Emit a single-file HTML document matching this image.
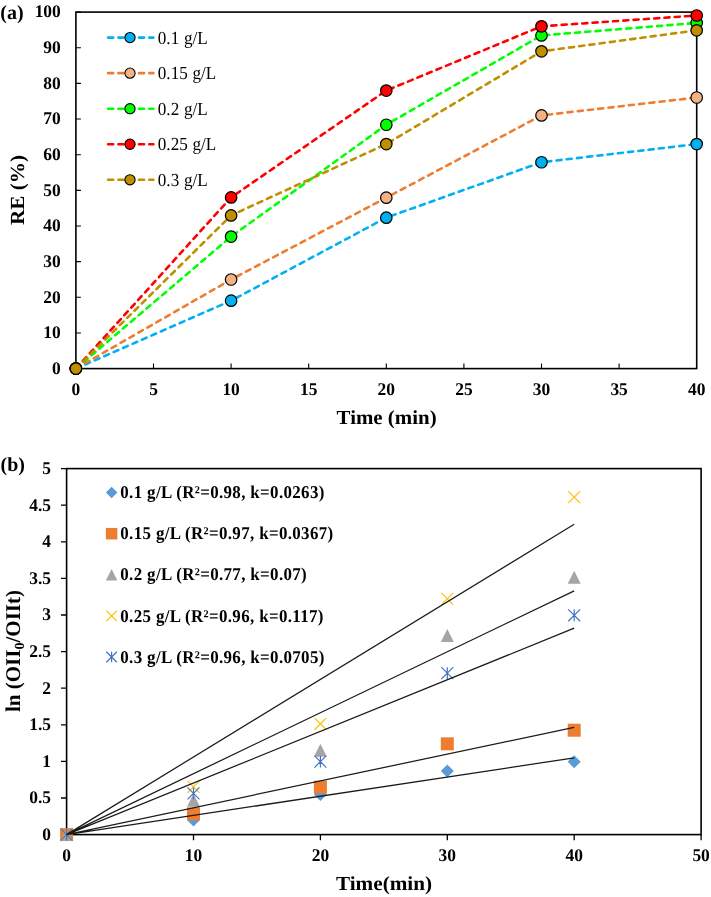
<!DOCTYPE html><html><head><meta charset="utf-8"><style>html,body{margin:0;padding:0;background:#fff;}svg{display:block;will-change:transform;}text{font-family:"Liberation Serif",serif;text-rendering:geometricPrecision;}</style></head><body>
<svg width="711" height="897" viewBox="0 0 711 897">
<rect width="711" height="897" fill="#fff"/>
<text x="0.3" y="18.7" font-size="20" font-weight="bold">(a)</text>
<path d="M75.90 332.95h5M75.90 297.30h5M75.90 261.65h5M75.90 226.00h5M75.90 190.35h5M75.90 154.70h5M75.90 119.05h5M75.90 83.40h5M75.90 47.75h5M75.90 12.10h5M153.50 368.60v-5M231.10 368.60v-5M308.70 368.60v-5M386.30 368.60v-5M463.90 368.60v-5M541.50 368.60v-5M619.10 368.60v-5" stroke="#000" stroke-width="1.1" fill="none"/>
<rect x="75.9" y="12.1" width="620.8000000000001" height="356.5" fill="none" stroke="#000" stroke-width="1.6"/>
<text transform="translate(60.8 373.80) scale(0.98 1)" font-size="17.8" font-weight="bold" text-anchor="end">0</text>
<text transform="translate(60.8 338.15) scale(0.98 1)" font-size="17.8" font-weight="bold" text-anchor="end">10</text>
<text transform="translate(60.8 302.50) scale(0.98 1)" font-size="17.8" font-weight="bold" text-anchor="end">20</text>
<text transform="translate(60.8 266.85) scale(0.98 1)" font-size="17.8" font-weight="bold" text-anchor="end">30</text>
<text transform="translate(60.8 231.20) scale(0.98 1)" font-size="17.8" font-weight="bold" text-anchor="end">40</text>
<text transform="translate(60.8 195.55) scale(0.98 1)" font-size="17.8" font-weight="bold" text-anchor="end">50</text>
<text transform="translate(60.8 159.90) scale(0.98 1)" font-size="17.8" font-weight="bold" text-anchor="end">60</text>
<text transform="translate(60.8 124.25) scale(0.98 1)" font-size="17.8" font-weight="bold" text-anchor="end">70</text>
<text transform="translate(60.8 88.60) scale(0.98 1)" font-size="17.8" font-weight="bold" text-anchor="end">80</text>
<text transform="translate(60.8 52.95) scale(0.98 1)" font-size="17.8" font-weight="bold" text-anchor="end">90</text>
<text transform="translate(60.8 17.30) scale(0.98 1)" font-size="17.8" font-weight="bold" text-anchor="end">100</text>
<text transform="translate(75.90 394.5) scale(0.98 1)" font-size="17.8" font-weight="bold" text-anchor="middle">0</text>
<text transform="translate(153.50 394.5) scale(0.98 1)" font-size="17.8" font-weight="bold" text-anchor="middle">5</text>
<text transform="translate(231.10 394.5) scale(0.98 1)" font-size="17.8" font-weight="bold" text-anchor="middle">10</text>
<text transform="translate(308.70 394.5) scale(0.98 1)" font-size="17.8" font-weight="bold" text-anchor="middle">15</text>
<text transform="translate(386.30 394.5) scale(0.98 1)" font-size="17.8" font-weight="bold" text-anchor="middle">20</text>
<text transform="translate(463.90 394.5) scale(0.98 1)" font-size="17.8" font-weight="bold" text-anchor="middle">25</text>
<text transform="translate(541.50 394.5) scale(0.98 1)" font-size="17.8" font-weight="bold" text-anchor="middle">30</text>
<text transform="translate(619.10 394.5) scale(0.98 1)" font-size="17.8" font-weight="bold" text-anchor="middle">35</text>
<text transform="translate(696.70 394.5) scale(0.98 1)" font-size="17.8" font-weight="bold" text-anchor="middle">40</text>
<text transform="translate(386.6 423.7) scale(1.045 1)" font-size="20" font-weight="bold" text-anchor="middle">Time (min)</text>
<text transform="translate(24.2 190.0) rotate(-90) scale(1.06 1)" font-size="20" font-weight="bold" text-anchor="middle">RE (%)</text>
<polyline points="75.90,368.60 231.10,300.70 386.30,217.65 541.50,162.25 696.70,144.10" fill="none" stroke="#00B0F0" stroke-width="2.6" stroke-dasharray="5.1 5.2" stroke-linecap="round"/>
<circle cx="75.90" cy="368.60" r="5.75" fill="#00B0F0" stroke="#000" stroke-width="1.2"/>
<circle cx="231.10" cy="300.70" r="5.75" fill="#00B0F0" stroke="#000" stroke-width="1.2"/>
<circle cx="386.30" cy="217.65" r="5.75" fill="#00B0F0" stroke="#000" stroke-width="1.2"/>
<circle cx="541.50" cy="162.25" r="5.75" fill="#00B0F0" stroke="#000" stroke-width="1.2"/>
<circle cx="696.70" cy="144.10" r="5.75" fill="#00B0F0" stroke="#000" stroke-width="1.2"/>
<polyline points="75.90,368.60 231.10,279.50 386.30,197.70 541.50,115.40 696.70,97.50" fill="none" stroke="#ED7D31" stroke-width="2.6" stroke-dasharray="5.1 5.2" stroke-linecap="round"/>
<circle cx="75.90" cy="368.60" r="5.75" fill="#F4B183" stroke="#000" stroke-width="1.2"/>
<circle cx="231.10" cy="279.50" r="5.75" fill="#F4B183" stroke="#000" stroke-width="1.2"/>
<circle cx="386.30" cy="197.70" r="5.75" fill="#F4B183" stroke="#000" stroke-width="1.2"/>
<circle cx="541.50" cy="115.40" r="5.75" fill="#F4B183" stroke="#000" stroke-width="1.2"/>
<circle cx="696.70" cy="97.50" r="5.75" fill="#F4B183" stroke="#000" stroke-width="1.2"/>
<polyline points="75.90,368.60 231.10,236.60 386.30,124.75 541.50,35.45 696.70,22.90" fill="none" stroke="#00FF00" stroke-width="2.6" stroke-dasharray="5.1 5.2" stroke-linecap="round"/>
<circle cx="75.90" cy="368.60" r="5.75" fill="#00FF00" stroke="#000" stroke-width="1.2"/>
<circle cx="231.10" cy="236.60" r="5.75" fill="#00FF00" stroke="#000" stroke-width="1.2"/>
<circle cx="386.30" cy="124.75" r="5.75" fill="#00FF00" stroke="#000" stroke-width="1.2"/>
<circle cx="541.50" cy="35.45" r="5.75" fill="#00FF00" stroke="#000" stroke-width="1.2"/>
<circle cx="696.70" cy="22.90" r="5.75" fill="#00FF00" stroke="#000" stroke-width="1.2"/>
<polyline points="75.90,368.60 231.10,197.40 386.30,90.55 541.50,26.30 696.70,15.50" fill="none" stroke="#FF0000" stroke-width="2.6" stroke-dasharray="5.1 5.2" stroke-linecap="round"/>
<circle cx="75.90" cy="368.60" r="5.75" fill="#FF0000" stroke="#000" stroke-width="1.2"/>
<circle cx="231.10" cy="197.40" r="5.75" fill="#FF0000" stroke="#000" stroke-width="1.2"/>
<circle cx="386.30" cy="90.55" r="5.75" fill="#FF0000" stroke="#000" stroke-width="1.2"/>
<circle cx="541.50" cy="26.30" r="5.75" fill="#FF0000" stroke="#000" stroke-width="1.2"/>
<circle cx="696.70" cy="15.50" r="5.75" fill="#FF0000" stroke="#000" stroke-width="1.2"/>
<polyline points="75.90,368.60 231.10,215.40 386.30,144.05 541.50,51.35 696.70,30.35" fill="none" stroke="#BF8F00" stroke-width="2.6" stroke-dasharray="5.1 5.2" stroke-linecap="round"/>
<circle cx="75.90" cy="368.60" r="5.75" fill="#BF8F00" stroke="#000" stroke-width="1.2"/>
<circle cx="231.10" cy="215.40" r="5.75" fill="#BF8F00" stroke="#000" stroke-width="1.2"/>
<circle cx="386.30" cy="144.05" r="5.75" fill="#BF8F00" stroke="#000" stroke-width="1.2"/>
<circle cx="541.50" cy="51.35" r="5.75" fill="#BF8F00" stroke="#000" stroke-width="1.2"/>
<circle cx="696.70" cy="30.35" r="5.75" fill="#BF8F00" stroke="#000" stroke-width="1.2"/>
<path d="M108.1 37.60H153.4" stroke="#00B0F0" stroke-width="2.6" stroke-dasharray="5.1 5.2" stroke-linecap="round"/>
<circle cx="130" cy="37.60" r="5.1" fill="#00B0F0" stroke="#000" stroke-width="1.1"/>
<text transform="translate(157.8 43.80) scale(0.93 1)" font-size="18.4" word-spacing="0.6">0.1 g/L</text>
<path d="M108.1 73.15H153.4" stroke="#ED7D31" stroke-width="2.6" stroke-dasharray="5.1 5.2" stroke-linecap="round"/>
<circle cx="130" cy="73.15" r="5.1" fill="#F4B183" stroke="#000" stroke-width="1.1"/>
<text transform="translate(157.8 79.35) scale(0.93 1)" font-size="18.4" word-spacing="0.6">0.15 g/L</text>
<path d="M108.1 108.70H153.4" stroke="#00FF00" stroke-width="2.6" stroke-dasharray="5.1 5.2" stroke-linecap="round"/>
<circle cx="130" cy="108.70" r="5.1" fill="#00FF00" stroke="#000" stroke-width="1.1"/>
<text transform="translate(157.8 114.90) scale(0.93 1)" font-size="18.4" word-spacing="0.6">0.2 g/L</text>
<path d="M108.1 144.25H153.4" stroke="#FF0000" stroke-width="2.6" stroke-dasharray="5.1 5.2" stroke-linecap="round"/>
<circle cx="130" cy="144.25" r="5.1" fill="#FF0000" stroke="#000" stroke-width="1.1"/>
<text transform="translate(157.8 150.45) scale(0.93 1)" font-size="18.4" word-spacing="0.6">0.25 g/L</text>
<path d="M108.1 179.80H153.4" stroke="#BF8F00" stroke-width="2.6" stroke-dasharray="5.1 5.2" stroke-linecap="round"/>
<circle cx="130" cy="179.80" r="5.1" fill="#BF8F00" stroke="#000" stroke-width="1.1"/>
<text transform="translate(157.8 186.00) scale(0.93 1)" font-size="18.4" word-spacing="0.6">0.3 g/L</text>
<text x="0.5" y="471.1" font-size="20" font-weight="bold">(b)</text>
<path d="M61.00 834.60H66.60M61.00 798.00H66.60M61.00 761.40H66.60M61.00 724.80H66.60M61.00 688.20H66.60M61.00 651.60H66.60M61.00 615.00H66.60M61.00 578.40H66.60M61.00 541.80H66.60M61.00 505.20H66.60M61.00 468.60H66.60M66.60 834.60v5.6M193.50 834.60v5.6M320.40 834.60v5.6M447.30 834.60v5.6M574.20 834.60v5.6M701.10 834.60v5.6" stroke="#000" stroke-width="1.3" fill="none"/>
<rect x="66.6" y="468.6" width="634.5" height="366.0" fill="none" stroke="#000" stroke-width="1.6"/>
<text transform="translate(51 840.00) scale(0.98 1)" font-size="17.8" font-weight="bold" text-anchor="end">0</text>
<text transform="translate(51 803.40) scale(0.98 1)" font-size="17.8" font-weight="bold" text-anchor="end">0.5</text>
<text transform="translate(51 766.80) scale(0.98 1)" font-size="17.8" font-weight="bold" text-anchor="end">1</text>
<text transform="translate(51 730.20) scale(0.98 1)" font-size="17.8" font-weight="bold" text-anchor="end">1.5</text>
<text transform="translate(51 693.60) scale(0.98 1)" font-size="17.8" font-weight="bold" text-anchor="end">2</text>
<text transform="translate(51 657.00) scale(0.98 1)" font-size="17.8" font-weight="bold" text-anchor="end">2.5</text>
<text transform="translate(51 620.40) scale(0.98 1)" font-size="17.8" font-weight="bold" text-anchor="end">3</text>
<text transform="translate(51 583.80) scale(0.98 1)" font-size="17.8" font-weight="bold" text-anchor="end">3.5</text>
<text transform="translate(51 547.20) scale(0.98 1)" font-size="17.8" font-weight="bold" text-anchor="end">4</text>
<text transform="translate(51 510.60) scale(0.98 1)" font-size="17.8" font-weight="bold" text-anchor="end">4.5</text>
<text transform="translate(51 474.00) scale(0.98 1)" font-size="17.8" font-weight="bold" text-anchor="end">5</text>
<text transform="translate(66.60 861.2) scale(0.98 1)" font-size="17.8" font-weight="bold" text-anchor="middle">0</text>
<text transform="translate(193.50 861.2) scale(0.98 1)" font-size="17.8" font-weight="bold" text-anchor="middle">10</text>
<text transform="translate(320.40 861.2) scale(0.98 1)" font-size="17.8" font-weight="bold" text-anchor="middle">20</text>
<text transform="translate(447.30 861.2) scale(0.98 1)" font-size="17.8" font-weight="bold" text-anchor="middle">30</text>
<text transform="translate(574.20 861.2) scale(0.98 1)" font-size="17.8" font-weight="bold" text-anchor="middle">40</text>
<text transform="translate(701.10 861.2) scale(0.98 1)" font-size="17.8" font-weight="bold" text-anchor="middle">50</text>
<text transform="translate(384 889.7) scale(1.06 1)" font-size="20" font-weight="bold" text-anchor="middle">Time(min)</text>
<text transform="translate(20.4 651) rotate(-90)" font-size="21" font-weight="bold" text-anchor="middle">ln (OII<tspan font-size="14" dy="4">0</tspan><tspan dy="-4">/OIIt)</tspan></text>
<path d="M66.60 828.10L73.10 834.60L66.60 841.10L60.10 834.60Z" fill="#5B9BD5"/>
<path d="M193.50 813.46L200.00 819.96L193.50 826.46L187.00 819.96Z" fill="#5B9BD5"/>
<path d="M320.40 788.06L326.90 794.56L320.40 801.06L313.90 794.56Z" fill="#5B9BD5"/>
<path d="M447.30 764.56L453.80 771.06L447.30 777.56L440.80 771.06Z" fill="#5B9BD5"/>
<path d="M574.20 755.27L580.70 761.77L574.20 768.27L567.70 761.77Z" fill="#5B9BD5"/>
<rect x="60.10" y="828.10" width="13" height="13" fill="#ED7D31"/>
<rect x="187.00" y="807.38" width="13" height="13" fill="#ED7D31"/>
<rect x="313.90" y="780.67" width="13" height="13" fill="#ED7D31"/>
<rect x="440.80" y="737.33" width="13" height="13" fill="#ED7D31"/>
<rect x="567.70" y="723.72" width="13" height="13" fill="#ED7D31"/>
<path d="M66.60 828.10L73.10 841.10L60.10 841.10Z" fill="#A5A5A5"/>
<path d="M193.50 793.77L200.00 806.77L187.00 806.77Z" fill="#A5A5A5"/>
<path d="M320.40 743.63L326.90 756.63L313.90 756.63Z" fill="#A5A5A5"/>
<path d="M447.30 629.00L453.80 642.00L440.80 642.00Z" fill="#A5A5A5"/>
<path d="M574.20 570.80L580.70 583.80L567.70 583.80Z" fill="#A5A5A5"/>
<path d="M60.62 828.62L72.58 840.58M72.58 828.62L60.62 840.58" stroke="#FFC000" stroke-width="1.2" fill="none"/>
<path d="M187.52 780.89L199.48 792.85M199.48 780.89L187.52 792.85" stroke="#FFC000" stroke-width="1.2" fill="none"/>
<path d="M314.42 717.80L326.38 729.76M326.38 717.80L314.42 729.76" stroke="#FFC000" stroke-width="1.2" fill="none"/>
<path d="M441.32 592.92L453.28 604.88M453.28 592.92L441.32 604.88" stroke="#FFC000" stroke-width="1.2" fill="none"/>
<path d="M568.22 491.17L580.18 503.13M580.18 491.17L568.22 503.13" stroke="#FFC000" stroke-width="1.2" fill="none"/>
<path d="M60.62 828.62L72.58 840.58M72.58 828.62L60.62 840.58M66.60 828.62V840.58" stroke="#4472C4" stroke-width="1.2" fill="none"/>
<path d="M187.52 787.41L199.48 799.37M199.48 787.41L187.52 799.37M193.50 787.41V799.37" stroke="#4472C4" stroke-width="1.2" fill="none"/>
<path d="M314.42 755.64L326.38 767.60M326.38 755.64L314.42 767.60M320.40 755.64V767.60" stroke="#4472C4" stroke-width="1.2" fill="none"/>
<path d="M441.32 667.14L453.28 679.10M453.28 667.14L441.32 679.10M447.30 667.14V679.10" stroke="#4472C4" stroke-width="1.2" fill="none"/>
<path d="M568.22 609.31L580.18 621.27M580.18 609.31L568.22 621.27M574.20 609.31V621.27" stroke="#4472C4" stroke-width="1.2" fill="none"/>
<path d="M66.60 834.60L574.20 757.81M66.60 834.60L574.20 727.29M66.60 834.60L574.20 590.84M66.60 834.60L574.20 524.23M66.60 834.60L574.20 628.18" stroke="#1a1a1a" stroke-width="1.25" fill="none"/>
<path d="M111.60 486.85L117.35 492.60L111.60 498.35L105.85 492.60Z" fill="#5B9BD5"/>
<text transform="translate(120.3 498.20) scale(0.94 1)" font-size="18" font-weight="bold" letter-spacing="0.37" word-spacing="0">0.1 g/L (R²=0.98, k=0.0263)</text>
<rect x="105.85" y="527.95" width="11.5" height="11.5" fill="#ED7D31"/>
<text transform="translate(120.3 539.30) scale(0.94 1)" font-size="18" font-weight="bold" letter-spacing="0.37" word-spacing="0">0.15 g/L (R²=0.97, k=0.0367)</text>
<path d="M111.60 569.05L117.35 580.55L105.85 580.55Z" fill="#A5A5A5"/>
<text transform="translate(120.3 580.40) scale(0.94 1)" font-size="18" font-weight="bold" letter-spacing="0.37" word-spacing="0">0.2 g/L (R²=0.77, k=0.07)</text>
<path d="M106.31 610.61L116.89 621.19M116.89 610.61L106.31 621.19" stroke="#FFC000" stroke-width="1.2" fill="none"/>
<text transform="translate(120.3 621.50) scale(0.94 1)" font-size="18" font-weight="bold" letter-spacing="0.37" word-spacing="0">0.25 g/L (R²=0.96, k=0.117)</text>
<path d="M106.31 651.71L116.89 662.29M116.89 651.71L106.31 662.29M111.60 651.71V662.29" stroke="#4472C4" stroke-width="1.2" fill="none"/>
<text transform="translate(120.3 662.60) scale(0.94 1)" font-size="18" font-weight="bold" letter-spacing="0.37" word-spacing="0">0.3 g/L (R²=0.96, k=0.0705)</text>
</svg></body></html>
